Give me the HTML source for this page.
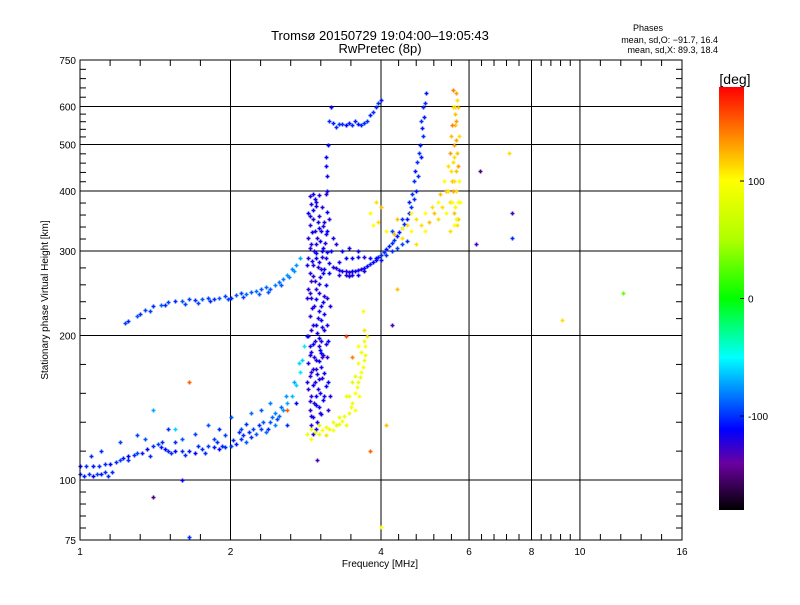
<!DOCTYPE html>
<html><head><meta charset="utf-8"><style>
body{margin:0;background:#fff}
svg text{font-family:"Liberation Sans",sans-serif;fill:#000}
</style></head><body>
<svg id="c" width="800" height="600" xmlns="http://www.w3.org/2000/svg">
<rect width="800" height="600" fill="#fff"/>
<defs><linearGradient id="cb" x1="0" y1="1" x2="0" y2="0">
<stop offset="0" stop-color="#000"/><stop offset="0.11" stop-color="#6a00a0"/><stop offset="0.19" stop-color="#0000ff"/><stop offset="0.36" stop-color="#00ffff"/><stop offset="0.5" stop-color="#00ff00"/><stop offset="0.64" stop-color="#b0ff00"/><stop offset="0.78" stop-color="#ffff00"/><stop offset="0.89" stop-color="#ff8000"/><stop offset="1" stop-color="#ff0000"/>
</linearGradient></defs>
<g id="grid"></g>
<g id="pts"></g>
<rect x="80" y="60" width="602" height="480" fill="none" stroke="#000" stroke-width="1"/>
<g id="axes"></g>
<text x="380" y="40" font-size="13" text-anchor="middle">Tromsø 20150729 19:04:00–19:05:43</text>
<text x="380" y="53" font-size="13" text-anchor="middle">RwPretec (8p)</text>
<text x="648" y="31" font-size="9" text-anchor="middle">Phases</text>
<text x="718" y="43" font-size="9" text-anchor="end">mean, sd,O: −91.7, 16.4</text>
<text x="718" y="53" font-size="9" text-anchor="end">mean, sd,X:  89.3, 18.4</text>
<text x="380" y="567" font-size="10" text-anchor="middle">Frequency [MHz]</text>
<text x="48" y="300" font-size="10" text-anchor="middle" transform="rotate(-90 48 300)">Stationary phase Virtual Height [km]</text>
<rect x="719" y="87" width="25" height="423" fill="url(#cb)"/>
<text x="735" y="84" font-size="14" text-anchor="middle">[deg]</text>
<g id="cbax"></g>
</svg>
<script>
const xTicks=[1,2,4,6,8,10,16];
const xTickLabels=["1","2","4","6","8","10","16"];
const yTicks=[75,100,200,300,400,500,600,750];
const yTickLabels=["75","100","200","300","400","500","600","750"];
const cbTicks=[100,0,-100];
const cbTickLabels=["100","0","-100"];
// [freq MHz, height km, phase deg]
const traceLowO=[[1.0,103,-100],[1.02,102,-105],[1.04,103,-100],[1.06,102,-110],[1.08,103,-95],[1.1,103,-105],[1.12,104,-100],[1.14,102,-100],[1.16,104,-100],[1.0,107,-110],[1.03,107,-100],[1.06,107,-105],[1.09,107,-100],[1.12,108,-100],[1.15,108,-110],[1.18,109,-100],[1.2,110,-95],[1.22,111,-105],[1.25,112,-110],[1.28,113,-100],[1.3,114,-95],[1.33,114,-105],[1.36,116,-110],[1.4,118,-100],[1.43,119,-95],[1.45,117,-105],[1.48,116,-110],[1.5,115,-100],[1.55,115,-110],[1.6,115,-100],[1.65,115,-105],[1.7,114,-110],[1.75,116,-100],[1.8,118,-95],[1.85,117,-105],[1.9,116,-110],[1.95,117,-100],[2.0,118,-95],[2.05,119,-105],[2.1,122,-100],[2.15,120,-90],[2.2,123,-100],[2.25,125,-90],[2.3,128,-95],[2.35,126,-85],[2.4,132,-90],[2.45,130,-80],[2.5,136,-85],[2.55,140,-75],[2.6,145,-70],[2.65,150,-65],[2.7,158,-60],[2.75,168,-55],[2.78,178,-60],[2.8,190,-55],[1.3,124,-95],[1.5,128,-100],[1.6,122,-90],[1.7,125,-95],[1.8,130,-90],[1.9,128,-100],[2.0,135,-90],[2.1,128,-95],[2.2,138,-85],[2.3,140,-90],[2.4,145,-80],[1.4,140,-70],[1.2,120,-95],[1.1,115,-100],[1.55,120,-100],[1.85,122,-95],[2.15,131,-100],[2.45,138,-80],[2.6,130,-100],[2.7,145,-110],[1.05,112,-100],[1.35,122,-90],[1.25,110,-100],[1.38,112,-100],[1.52,114,-100],[1.62,113,-100],[1.78,114,-100],[1.92,118,-100],[2.02,121,-100],[2.12,124,-100],[2.22,128,-95],[2.32,132,-90],[2.42,135,-85],[2.52,142,-85],[2.58,150,-75],[2.68,160,-70],[2.74,175,-60],[2.08,126,-100],[2.18,126,-100],[2.28,130,-100],[2.38,128,-100],[2.48,134,-95],[1.95,124,-95],[1.88,120,-100],[1.72,118,-100],[1.46,120,-100]];
const traceUpper=[[1.23,212,-95],[1.25,214,-100],[1.3,220,-90],[1.35,226,-95],[1.4,230,-100],[1.45,232,-90],[1.5,235,-95],[1.55,236,-100],[1.6,236,-90],[1.65,238,-95],[1.7,237,-100],[1.75,238,-90],[1.8,240,-95],[1.85,238,-100],[1.9,240,-90],[1.95,242,-95],[2.0,240,-100],[2.05,243,-90],[2.1,245,-95],[2.15,244,-85],[2.2,247,-90],[2.25,248,-85],[2.3,250,-90],[2.35,252,-85],[2.4,250,-90],[2.45,255,-80],[2.5,258,-85],[2.55,262,-80],[2.6,268,-75],[2.65,275,-80],[2.7,280,-75],[2.75,290,-70],[1.38,225,-95],[1.72,234,-95],[2.28,244,-90],[1.32,222,-100],[1.48,231,-100],[1.62,233,-95],[1.82,236,-100],[1.98,238,-95],[2.12,241,-95],[2.38,247,-90],[2.52,255,-90],[2.62,265,-80],[2.68,272,-75]];
const traceSpread=[[2.88,390,-120],[2.95,385,-110],[3.1,395,-120],[2.9,375,-115],[3.05,370,-120],[2.86,360,-110],[3.0,355,-120],[3.12,362,-110],[2.92,350,-120],[3.08,345,-115],[2.88,340,-120],[3.0,335,-110],[2.95,330,-120],[3.1,325,-115],[2.86,320,-120],[3.02,315,-110],[2.9,310,-120],[3.06,305,-115],[2.94,300,-120],[3.12,298,-110],[2.86,290,-120],[3.0,285,-115],[2.92,280,-120],[3.08,275,-110],[2.88,270,-120],[3.02,265,-115],[2.95,260,-120],[3.1,255,-110],[2.86,250,-120],[3.0,245,-115],[2.9,240,-120],[3.06,235,-110],[2.94,230,-120],[3.0,225,-115],[2.88,220,-120],[3.04,215,-110],[2.92,210,-120],[3.08,205,-115],[2.86,200,-120],[3.0,198,-110],[2.95,195,-120],[3.1,192,-115],[2.88,190,-120],[3.02,187,-110],[2.9,185,-120],[3.06,182,-115],[2.94,180,-120],[3.0,177,-110],[2.86,175,-120],[3.04,172,-115],[2.92,170,-120],[3.08,167,-110],[2.88,165,-120],[3.0,162,-115],[2.95,160,-120],[3.1,157,-110],[2.86,155,-120],[3.02,152,-115],[2.9,150,-120],[3.06,147,-110],[2.94,145,-120],[3.0,142,-115],[2.88,140,-120],[3.04,137,-110],[2.92,135,-120],[2.98,132,-115],[2.9,130,-120],[2.97,380,-120],[2.93,365,-110],[2.97,310,-120],[2.97,290,-110],[2.97,250,-120],[2.97,210,-110],[2.97,170,-120],[2.97,150,-110],[3.03,195,-120],[3.03,230,-115],[3.03,275,-120],[3.03,330,-115],[2.9,260,-130],[3.05,180,-130],[3.13,160,-110],[3.14,140,-120]];
const traceSpread2=[[2.92,395,-115],[3.0,392,-120],[2.96,372,-110],[2.89,355,-120],[2.99,345,-115],[3.06,338,-120],[2.91,328,-110],[2.98,320,-120],[3.09,312,-115],[2.88,305,-120],[2.96,297,-110],[3.05,292,-120],[2.91,286,-115],[2.99,278,-120],[3.06,270,-110],[2.93,266,-120],[3.0,256,-115],[2.89,245,-120],[2.97,238,-110],[3.08,242,-120],[2.91,228,-115],[2.99,218,-120],[3.07,222,-110],[2.9,205,-120],[2.98,202,-115],[3.05,208,-120],[2.93,192,-110],[3.0,190,-120],[2.88,182,-115],[2.96,178,-120],[3.03,184,-110],[2.9,168,-120],[2.98,166,-115],[3.05,163,-120],[2.92,158,-110],[2.99,155,-120],[3.07,150,-115],[2.88,146,-120],[2.96,143,-110],[3.02,138,-120],[2.9,136,-115],[2.97,128,-120],[2.92,125,-120],[2.84,160,-115],[2.84,200,-110],[2.84,240,-120],[2.84,280,-115],[3.12,180,-120],[3.12,210,-115],[3.12,240,-120],[3.15,270,-110],[3.14,195,-110],[3.16,230,-120],[3.16,150,-120]];
const traceF2O=[[3.05,300,-110],[3.1,290,-115],[3.15,283,-110],[3.2,278,-120],[3.3,274,-115],[3.4,272,-120],[3.5,272,-110],[3.6,274,-115],[3.7,277,-110],[3.8,282,-105],[3.9,288,-110],[4.0,295,-100],[4.1,303,-105],[4.2,312,-100],[4.3,322,-105],[4.4,335,-100],[4.5,350,-105],[4.6,370,-100],[4.7,400,-105],[4.75,430,-100],[4.8,470,-105],[4.85,520,-100],[4.88,570,-105],[4.9,610,-100],[4.92,640,-105],[3.3,285,-115],[3.5,290,-110],[3.7,292,-120],[3.9,290,-110],[4.1,295,-100],[4.3,305,-95],[4.5,315,-100],[3.12,330,-110],[3.15,350,-120],[3.18,300,-110],[3.2,320,-115],[3.25,310,-120],[3.35,300,-110],[3.45,305,-115],[3.6,300,-110],[3.3,268,-120],[3.45,266,-115],[3.6,268,-110],[4.2,330,-95],[4.4,350,-100],[4.55,380,-105],[4.65,420,-100],[4.72,460,-100],[4.78,500,-105],[4.82,560,-100],[4.86,600,-100],[3.25,276,-120],[3.35,273,-115],[3.45,271,-120],[3.55,272,-115],[3.65,275,-120],[3.75,279,-110],[3.85,285,-110],[3.95,291,-105],[4.05,299,-100],[4.15,307,-105],[4.25,317,-100],[4.35,328,-105],[4.45,342,-100],[4.55,360,-105],[4.65,385,-100],[3.4,290,-110],[3.6,292,-115],[3.8,290,-110],[4.0,288,-105],[4.2,300,-100],[4.4,310,-95],[3.4,268,-120],[3.5,268,-120],[3.7,272,-115],[4.62,395,-100],[4.68,440,-105],[4.76,480,-100],[4.84,540,-105]];
const traceTop=[[3.15,560,-100],[3.2,555,-105],[3.3,553,-100],[3.4,550,-110],[3.5,548,-100],[3.6,552,-105],[3.7,555,-100],[3.8,575,-105],[3.9,600,-100],[4.0,620,-105],[3.18,600,-110],[3.1,470,-110],[3.12,430,-115],[3.14,500,-110],[3.25,545,-100],[3.55,560,-105],[3.35,552,-100],[3.45,555,-105],[3.65,550,-100],[3.75,560,-100],[3.85,585,-100],[3.95,610,-100],[3.12,400,-115],[3.1,450,-110]];
const traceYellowLow=[[2.85,125,90],[2.95,126,80],[3.05,127,100],[3.15,128,90],[3.25,130,80],[3.35,133,95],[3.45,138,85],[3.5,145,90],[3.55,152,100],[3.6,160,85],[3.65,168,95],[3.7,178,90],[3.72,190,100],[3.7,205,110],[3.68,225,100],[3.4,150,90],[3.5,160,80],[3.6,175,95],[3.3,135,85],[3.2,132,90],[3.0,130,80],[3.55,140,100],[3.65,185,90],[3.75,200,110],[3.8,115,150],[3.4,200,160],[3.5,180,140],[2.9,122,100],[3.1,124,110],[3.4,130,90],[3.62,150,100],[2.9,128,90],[3.0,125,85],[3.1,129,90],[3.2,127,95],[3.3,131,85],[3.38,136,90],[3.48,142,95],[3.58,156,90],[3.63,164,85],[3.68,172,95],[3.72,182,90],[3.45,150,90],[3.55,165,85],[3.6,190,100],[3.7,195,90]];
const traceYellowUp=[[3.85,340,100],[3.95,345,110],[4.1,330,100],[4.25,325,120],[4.4,320,110],[4.6,330,100],[4.8,340,110],[5.0,345,120],[5.2,350,110],[5.4,360,100],[5.5,380,110],[5.55,420,120],[5.58,460,110],[5.6,500,130],[5.62,550,120],[5.63,600,110],[5.65,640,130],[5.5,330,110],[5.6,340,100],[5.7,350,120],[5.65,400,110],[5.7,450,130],[5.75,380,100],[5.55,550,140],[5.7,600,120],[5.6,420,110],[5.68,480,120],[5.72,520,110],[5.2,380,100],[5.3,370,110],[5.4,400,120],[5.45,450,110],[5.5,480,130],[5.52,520,120],[5.56,600,110],[5.58,650,140],[4.5,340,110],[4.6,360,100],[4.3,350,120],[3.9,380,110],[3.8,360,100],[4.0,370,120],[4.7,310,110],[4.9,330,100],[5.1,360,120],[5.62,370,90],[5.74,420,100],[5.66,560,130],[4.4,335,100],[4.7,350,110],[4.9,360,100],[5.05,370,110],[5.25,395,120],[5.35,420,100],[5.45,400,110],[5.55,380,100],[5.6,360,120],[5.68,340,110],[5.7,380,100],[5.64,440,120],[5.6,470,110],[5.66,510,130],[5.62,580,120],[5.68,620,110],[5.58,400,130],[5.52,440,110],[5.65,350,90]];
const outliers=[[1.4,92,-150],[1.65,76,-100],[1.65,160,150],[1.55,128,-60],[6.3,440,-150],[7.2,480,110],[7.3,360,-130],[7.3,320,-100],[9.2,215,110],[12.2,245,30],[4.1,130,120],[4.0,80,100],[2.98,110,-130],[4.2,210,-130],[6.2,310,-130],[4.3,250,120],[1.6,100,-110],[2.6,140,150]];

const X0=80,X1=682,Y0=540,Y1=60;
const xs=f=>X0+(Math.log2(f)-Math.log2(1))/(Math.log2(16))*(X1-X0);
const ys=h=>Y0-(Math.log10(h)-Math.log10(75))/(Math.log10(750)-Math.log10(75))*(Y0-Y1);
const ns="http://www.w3.org/2000/svg";
function mk(t,a,p){const e=document.createElementNS(ns,t);for(const k in a)e.setAttribute(k,a[k]);p.appendChild(e);return e;}
const stops=[[-180,[0,0,0]],[-140,[106,0,160]],[-110,[0,0,255]],[-50,[0,255,255]],[0,[0,255,0]],[50,[176,255,0]],[100,[255,255,0]],[140,[255,128,0]],[180,[255,0,0]]];
function col(v){for(let i=1;i<stops.length;i++){if(v<=stops[i][0]){const a=stops[i-1],b=stops[i],t=(v-a[0])/(b[0]-a[0]);return"rgb("+a[1].map((c,j)=>Math.round(c+(b[1][j]-c)*t)).join(",")+")";}}return"rgb(255,0,0)";}
const grid=document.getElementById('grid'),axes=document.getElementById('axes'),pts=document.getElementById('pts'),cbax=document.getElementById('cbax');
xTicks.forEach((v,i)=>{const x=xs(v);
 if(i>0&&i<xTicks.length-1){const l=mk('line',{x1:x,y1:Y1,x2:x,y2:Y0,stroke:'#000'},grid);}
 const t=mk('text',{x:x,y:Y0+15,'font-size':10,'text-anchor':'middle'},axes);t.textContent=xTickLabels[i];});
yTicks.forEach((v,i)=>{const y=ys(v);
 if(i>0&&i<yTicks.length-1){const l=mk('line',{x1:X0,y1:y,x2:X1,y2:y,stroke:'#000'},grid);}
 const t=mk('text',{x:X0-4,y:y+4,'font-size':10,'text-anchor':'end'},axes);t.textContent=yTickLabels[i];});
// minor ticks: 5 per log interval between labelled ticks
function minorY(a,b){const ya=ys(a),yb=ys(b);for(let k=1;k<5;k++){const y=ya+(yb-ya)*k/5;mk('line',{x1:X0,y1:y,x2:X0+6,y2:y,stroke:'#000'},axes);mk('line',{x1:X1,y1:y,x2:X1-6,y2:y,stroke:'#000'},axes);}}
for(let i=0;i<yTicks.length-1;i++)minorY(yTicks[i],yTicks[i+1]);
function minorX(a,b){const xa=xs(a),xb=xs(b);for(let k=1;k<5;k++){const x=xa+(xb-xa)*k/5;mk('line',{x1:x,y1:Y0,x2:x,y2:Y0-6,stroke:'#000'},axes);mk('line',{x1:x,y1:Y1,x2:x,y2:Y1+6,stroke:'#000'},axes);}}
for(let i=0;i<xTicks.length-1;i++)minorX(xTicks[i],xTicks[i+1]);
const cy=v=>510-(v+180)/360*423;
cbTicks.forEach((v,i)=>{const y=cy(v);mk('line',{x1:744,y1:y,x2:740,y2:y,stroke:'#000'},cbax);const t=mk('text',{x:748,y:y+4,'font-size':10},cbax);t.textContent=cbTickLabels[i];});
const series=[['trace-low-o',traceLowO],['trace-upper',traceUpper],['trace-spread',traceSpread],['trace-spread-2',traceSpread2],['trace-f2-o',traceF2O],['trace-top',traceTop],['trace-yellow-low',traceYellowLow],['trace-yellow-up',traceYellowUp],['outliers',outliers]];
series.forEach(([nm,arr])=>{const g=mk('g',{},pts);
 arr.forEach(p=>{const x=Math.round(xs(p[0]))+0.5,y=Math.round(ys(p[1]))+0.5;
  const e=mk('path',{d:`M${x-2} ${y}h4M${x} ${y-2}v4`,stroke:col(p[2]),'stroke-width':1.6},g);
  });});
</script>
</body></html>
